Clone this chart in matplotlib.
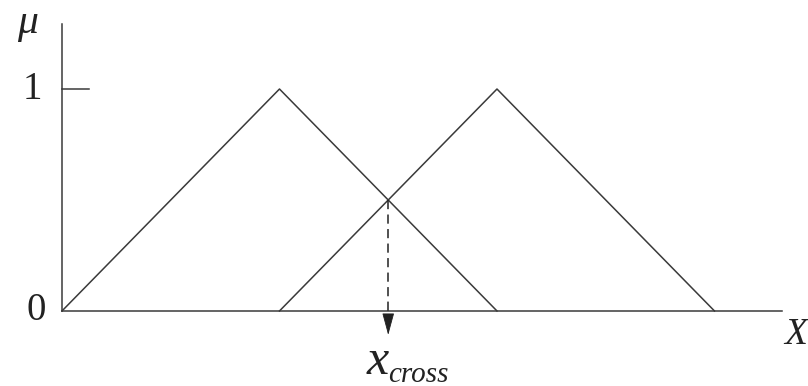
import matplotlib as mpl

mpl.use('agg')
import matplotlib.pyplot as plt

# membership functions: (left foot, peak, right foot)
tri_a = [0.0, 1.0, 2.0]
tri_b = [1.0, 2.0, 3.0]
mu_levels = [0.0, 1.0, 0.0]
x_cross = 1.5
mu_cross = 0.5
x_axis_end = 3.31
mu_axis_end = 1.293

serif = ['Liberation Serif', 'DejaVu Serif']

fig = plt.figure(figsize=(8.08, 3.86), dpi=100)
ax = fig.add_axes([0, 0, 1, 1])
ax.set_xlim(-0.285, 3.430)
ax.set_ylim(-0.338, 1.401)
ax.axis('off')

lc = '#3a3a3a'
tc = '#222222'
# axes
ax.plot([0, x_axis_end], [0, 0], color=lc, lw=1.1)
ax.plot([0, 0], [0, mu_axis_end], color=lc, lw=1.1)
ax.plot([0, 0.124], [1, 1], color=lc, lw=1.1)

# the two triangles
ax.plot(tri_a, mu_levels, color=lc, lw=1.1)
ax.plot(tri_b, mu_levels, color=lc, lw=1.1)

# dashed drop from the crossing point onto the x axis
ax.plot([x_cross, x_cross], [mu_cross, -0.03], color=tc, lw=1.1,
        linestyle=(0, (6, 3.5)))
ax.annotate('', xy=(x_cross, -0.108), xytext=(x_cross, -0.03),
            arrowprops=dict(arrowstyle='-|>,head_length=1.4,head_width=0.38',
                            color=tc, lw=0.6, shrinkA=0, shrinkB=0))

# labels
ax.text(-0.135, 1.0, '1', fontsize=28, family=serif, ha='center', va='center', color=tc)
ax.text(-0.12, 0.0, '0', fontsize=28, family=serif, ha='center', va='center', color=tc)
ax.text(-0.16, 1.30, 'μ', fontsize=30, family=serif, style='italic',
        ha='center', va='center', color=tc)
ax.text(3.375, -0.03, 'X', fontsize=27, family=serif, style='italic',
        ha='center', va='top', color=tc)
ax.text(x_cross + 0.005, -0.125, 'x', fontsize=36, family=serif, style='italic',
        ha='right', va='top', color=tc)
ax.text(x_cross, -0.228, 'cross', fontsize=21, family=serif, style='italic',
        ha='left', va='top', color=tc)

fig.savefig('out.png', dpi=100)
